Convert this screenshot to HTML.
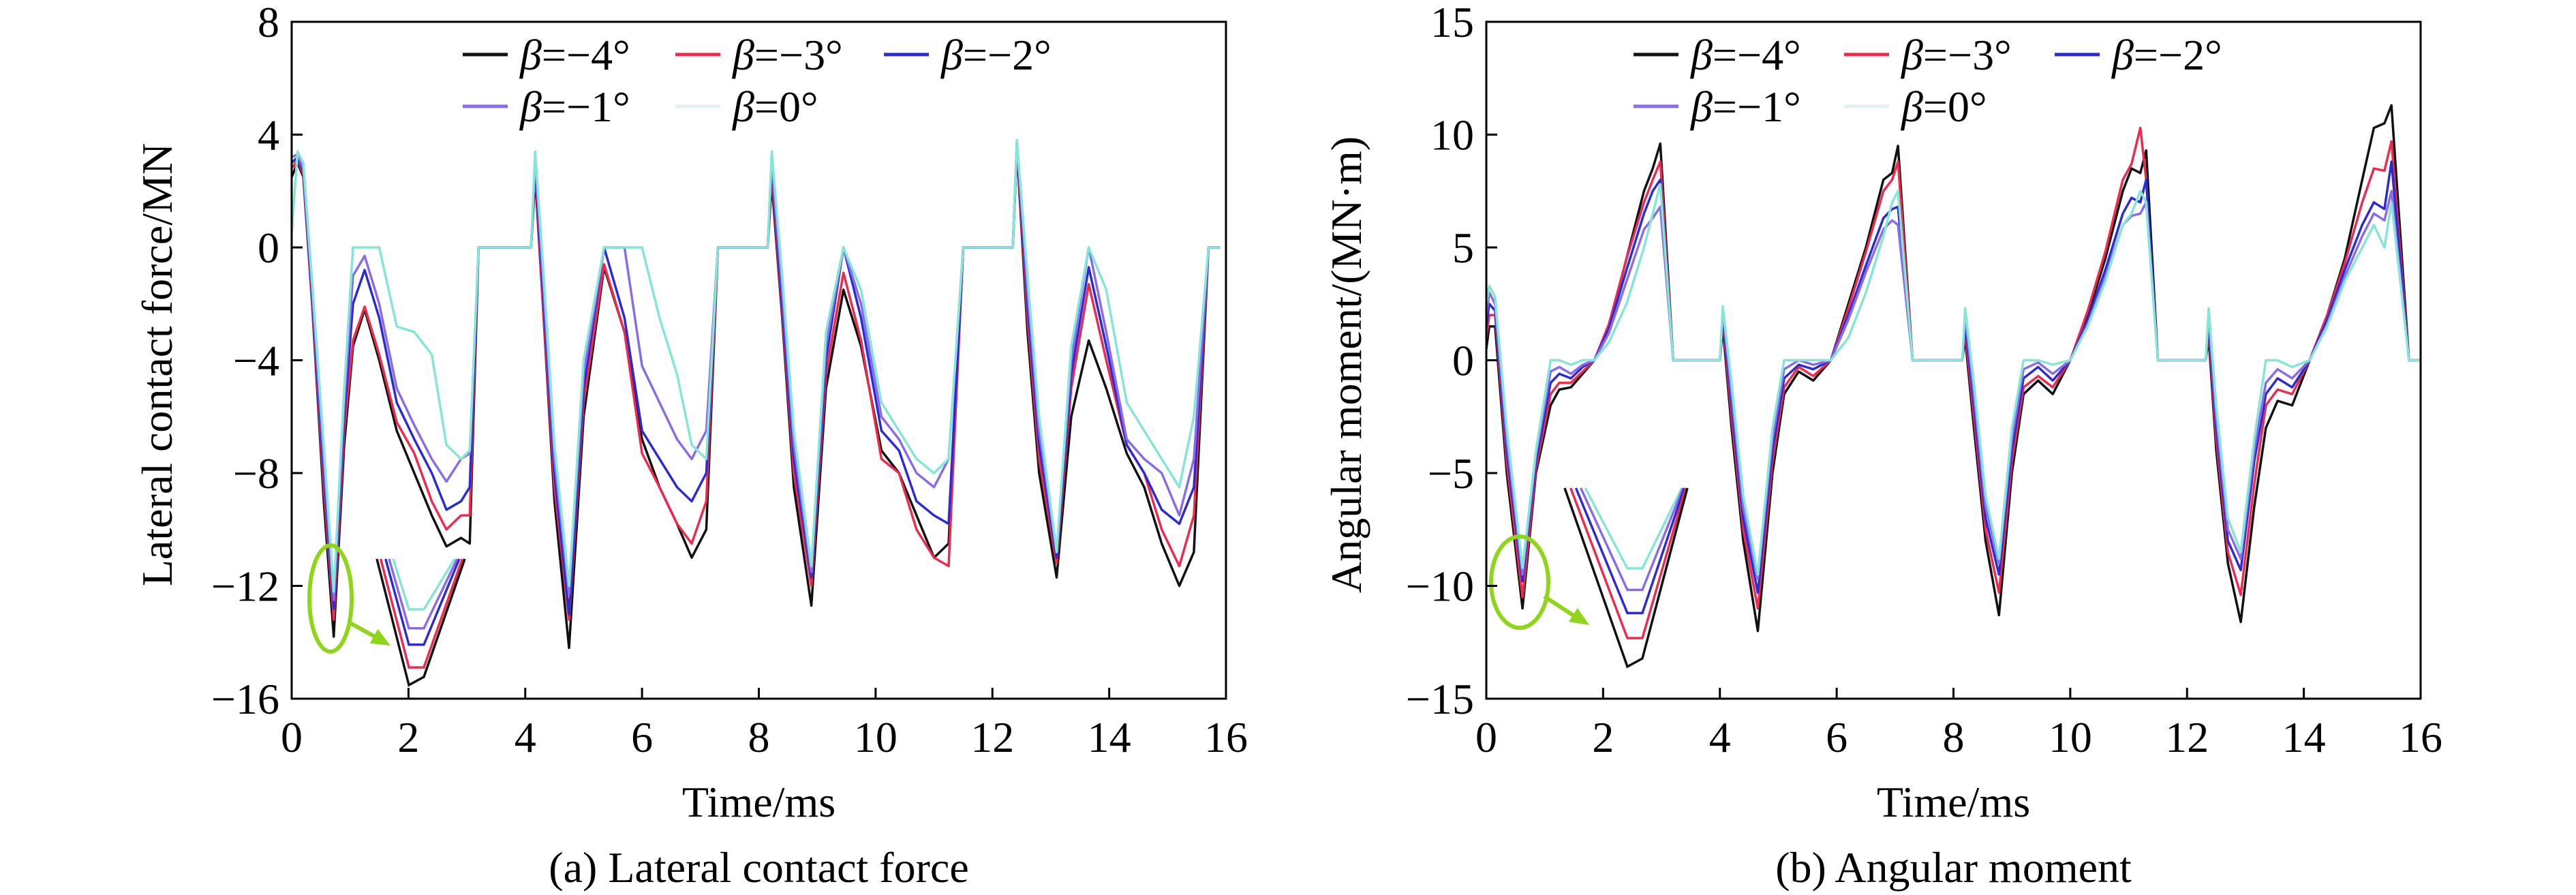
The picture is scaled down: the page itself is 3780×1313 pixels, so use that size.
<!DOCTYPE html>
<html><head><meta charset="utf-8">
<style>
html,body{margin:0;padding:0;background:#fff;}
svg{display:block;}
text{font-family:"Liberation Serif",serif;fill:#000;}
</style></head>
<body>
<svg id="fig" width="3780" height="1313" viewBox="0 0 3780 1313" xmlns="http://www.w3.org/2000/svg">
<g id="pa"></g>
<g id="pb"></g>
</svg>
<script>
// ---------- Panel (a): lateral contact force ----------
const forceTime = [0,0.1,0.2,0.35,0.55,0.72,0.9,1.05,1.25,1.5,1.8,2.1,2.4,2.65,2.9,3.05,3.2,4.1,
 4.17,4.3,4.5,4.75,5.0,5.35,5.7,6.0,6.3,6.6,6.85,7.1,7.3,8.15,
 8.22,8.4,8.6,8.9,9.15,9.45,9.75,10.1,10.4,10.7,11.0,11.25,11.5,12.35,
 12.42,12.6,12.8,13.1,13.35,13.65,13.95,14.3,14.6,14.9,15.2,15.45,15.7,15.9];
const forceB4 = [2.5,3,2.5,-2,-9,-13.8,-7,-3.5,-2.2,-4,-6.5,-8,-9.5,-10.6,-10.3,-10.5,0,0,
 2.5,-2,-9,-14.2,-6,-0.7,-3,-6.8,-8.5,-9.8,-11,-10,0,0,
 2.3,-2.5,-8.5,-12.7,-5,-1.5,-3.5,-7.2,-8,-9.5,-11,-10.5,0,0,
 3.5,-3,-8,-11.7,-6,-3.3,-5,-7.3,-8.5,-10.5,-12,-10.8,0,0];
const forceB3 = [2.8,3.1,2.6,-2,-8.5,-13.2,-6.5,-3.3,-2.1,-3.8,-6.2,-7.3,-9,-10,-9.5,-9.5,0,0,
 2.8,-2,-8.5,-13.2,-5.5,-0.6,-3,-7.3,-8.5,-9.8,-10.5,-9,0,0,
 2.6,-2.3,-8,-12,-4.5,-0.9,-3.3,-7.5,-8,-10,-11,-11.3,0,0,
 3.6,-2.5,-7.5,-11.2,-5,-1.3,-4,-7,-8,-10,-11.3,-9.5,0,0];
const forceB2 = [3,3.2,2.7,-1.8,-8,-12.8,-6,-2,-0.8,-2.5,-5.5,-6.8,-8,-9.3,-9,-8.5,0,0,
 3,-1.5,-8,-13,-5,0,-2.5,-6.5,-7.5,-8.5,-9,-8,0,0,
 2.9,-2,-7.5,-11.7,-4,0,-2.5,-6.5,-7.2,-9,-9.5,-9.8,0,0,
 3.7,-2,-7,-11,-4.5,-0.7,-3.5,-7,-8,-9.3,-9.8,-8.5,0,0];
const forceB1 = [3.2,3.3,2.8,-1.5,-7.5,-12.5,-5.5,-1,-0.3,-2,-5,-6.3,-7.5,-8.3,-7.5,-7.3,0,0,
 3.2,-1,-7.5,-12.3,-4.5,0,0,-4.2,-5.5,-6.8,-7.5,-6.5,0,0,
 3.1,-1.5,-7,-11.5,-3.5,0,-2,-6,-6.8,-8,-8.5,-7.5,0,0,
 3.8,-1.5,-6.5,-10.8,-4,0,-3,-6.8,-7.5,-8,-9.5,-7.5,0,0];
const forceB0 = [0.5,3.4,3,-1.2,-7,-12.2,-5,0,0,0,-2.8,-3,-3.8,-7,-7.5,-7.2,0,0,
 3.4,-0.5,-7,-12,-4,0,0,0,-2.5,-4.5,-7,-7.5,0,0,
 3.4,-1,-6.5,-11.3,-3,0,-1.5,-5.5,-6.5,-7.5,-8,-7.5,0,0,
 3.8,-1,-6,-10.8,-3.5,0,-1.5,-5.5,-6.5,-7.5,-8.5,-6,0,0];
const forceYTicks = [8,4,0,-4,-8,-12,-16];
const xTicks = [0,2,4,6,8,10,12,14,16];
const forceInsetDepth = [1.0, 0.86, 0.68, 0.55, 0.4];

// ---------- Panel (b): angular moment ----------
const momentTime = [0,0.05,0.15,0.35,0.62,0.85,1.1,1.25,1.45,1.65,1.85,2.1,2.4,2.7,2.85,2.98,3.2,4.0,
 4.05,4.2,4.4,4.65,4.9,5.1,5.35,5.6,5.9,6.2,6.5,6.8,6.95,7.05,7.3,8.15,
 8.2,8.35,8.55,8.78,9.0,9.2,9.45,9.7,10.0,10.3,10.6,10.9,11.05,11.2,11.3,11.5,12.32,
 12.37,12.5,12.7,12.92,13.15,13.35,13.55,13.8,14.1,14.4,14.7,15.0,15.2,15.38,15.5,15.8,16.0];
const momentB4 = [0.5,1.5,1.5,-5,-11,-5,-2,-1.3,-1.2,-0.6,0,1.5,4.5,7.5,8.5,9.6,0,0,
 1.5,-3,-8,-12,-5,-1.5,-0.5,-0.9,0,2.5,5,8,8.3,9.5,0,0,
 1,-3,-8,-11.3,-5,-1.5,-0.9,-1.5,0,2,4.5,7.5,8.5,8.3,9.3,0,0,
 1,-4,-9,-11.6,-6.5,-3,-1.8,-2,0,2,4.5,8,10.3,10.5,11.3,0,0];
const momentB3 = [1,2,2,-4.5,-10.5,-4.8,-1.5,-1,-1,-0.5,0,1.6,4.5,7,8,8.8,0,0,
 1.8,-2.5,-7.5,-11,-4.5,-1.2,-0.3,-0.7,0,2.3,4.8,7.5,8,8.8,0,0,
 1.3,-2.5,-7.5,-10.3,-4.5,-1.2,-0.7,-1.2,0,2.2,4.8,8,8.7,10.3,8,0,0,
 1.3,-3.5,-8.5,-10.4,-5.5,-2,-1.3,-1.5,0,2,4.3,7,8.5,8.4,9.7,0,0];
const momentB2 = [1.5,2.5,2.2,-4,-9.8,-4.5,-1,-0.6,-0.8,-0.3,0,1.4,4,6.5,7.5,8,0,0,
 2,-2,-7,-10.3,-4,-0.8,-0.2,-0.4,0,2,4.2,6.3,6.7,6.8,0,0,
 1.6,-2,-7,-9.5,-4,-0.8,-0.3,-0.9,0,1.8,4,6.5,7.2,7,8,0,0,
 1.6,-3,-8,-9.3,-4.5,-1.5,-0.8,-1.2,0,1.8,4,6,7,6.7,8.8,0,0];
const momentB1 = [2,3,2.5,-3.5,-9.5,-4.2,-0.5,-0.3,-0.6,-0.2,0,1.2,3.5,5.8,6.3,6.8,0,0,
 2.2,-1.5,-6.5,-9.7,-3.5,-0.4,0,-0.2,0,1.8,3.9,5.8,6.2,6,0,0,
 2,-1.5,-6.5,-9,-3.5,-0.4,-0.1,-0.6,0,1.6,3.7,6,6.4,6.5,7,0,0,
 2,-2.5,-7.5,-8.8,-4,-1,-0.4,-0.8,0,1.6,3.7,5.5,6.5,6.2,7.5,0,0];
const momentB0 = [2.5,3.3,2.8,-3,-9.2,-4,0,0,-0.2,0,0,0.8,2.5,5,6.5,7.8,0,0,
 2.4,-1,-6,-9.5,-3,0,0,0,0,1,3,5.5,7,7.5,0,0,
 2.3,-1,-6,-8.8,-3,0,0,-0.2,0,1.5,3.5,6,6.5,7.5,7,0,0,
 2.3,-2,-7,-8.5,-3.5,0,0,-0.3,0,1.5,3.5,5,6,5,7,0,0];
const momentYTicks = [15,10,5,0,-5,-10,-15];
const momentInsetDepth = [1.0, 0.84, 0.7, 0.57, 0.45];

const seriesLabels = ["β=−4°","β=−3°","β=−2°","β=−1°","β=0°"];
const seriesNames = ["beta-minus-4","beta-minus-3","beta-minus-2","beta-minus-1","beta-0"];
const colors = ["#111111","#ee2a4e","#2b2bd6","#8a6ce6","#84e6d6"];
const legendColors = ["#111111","#ee2a4e","#2b2bd6","#8a6ce6","#dff4f0"];

const NS = "http://www.w3.org/2000/svg";
function mk(tag, attrs, parent){
  const e = document.createElementNS(NS, tag);
  for (const k in attrs) e.setAttribute(k, attrs[k]);
  parent.appendChild(e);
  return e;
}

function drawPanel(g, cfg){
  const L=cfg.L, R=cfg.R, T=32, B=1025;
  const xs = t => L + (t-0)/(16-0)*(R-L);
  const ys = v => T + (cfg.ymax - v)/(cfg.ymax-cfg.ymin)*(B-T);
  for (let s=0; s<cfg.series.length; s++){
    const vals = cfg.series[s];
    let d = "";
    for (let i=0;i<cfg.time.length;i++){
      d += (i?"L":"M") + xs(cfg.time[i]).toFixed(1) + " " + ys(vals[i]).toFixed(1);
    }
    const p = mk("path",{d:d,fill:"none",stroke:colors[s],"stroke-width":3.5,"stroke-linejoin":"round"},g);
    
    
  }
  const ins = cfg.inset;
  for (let s=cfg.series.length-1; s>=0; s--){
    const dep = cfg.insetDepth[s];
    const x0 = ins.x0 + (1-dep)*ins.spreadL, x1 = ins.x1 - (1-dep)*ins.spreadR;
    const yb = ins.top + dep*(ins.bottom-ins.top);
    const d = "M"+x0+" "+ins.top+"L"+(ins.cx-12)+" "+yb+"L"+(ins.cx+10)+" "+(yb-(s===0?12:0))+"L"+x1+" "+ins.top;
    const p = mk("path",{d:d,fill:"none",stroke:colors[s],"stroke-width":3.5},g);
    
    
  }
  const el = mk("ellipse",{cx:cfg.ell[0],cy:cfg.ell[1],rx:cfg.ell[2],ry:cfg.ell[3],fill:"none",stroke:"#8fd61a","stroke-width":6},g);
  
  
  const a = cfg.arrow;
  const ar = mk("line",{x1:a[0],y1:a[1],x2:a[2]-12,y2:a[3]-7,stroke:"#8fd61a","stroke-width":6},g);
  
  
  const ang = Math.atan2(a[3]-a[1], a[2]-a[0]);
  const hx=a[2], hy=a[3];
  const pts = [[hx,hy],[hx-28*Math.cos(ang)+12*Math.sin(ang), hy-28*Math.sin(ang)-12*Math.cos(ang)],[hx-28*Math.cos(ang)-12*Math.sin(ang), hy-28*Math.sin(ang)+12*Math.cos(ang)]];
  const ah = mk("polygon",{points:pts.map(p=>p.join(",")).join(" "),fill:"#8fd61a"},g);
  
  
  const fr = mk("rect",{x:L,y:T,width:R-L,height:B-T,fill:"none",stroke:"#000","stroke-width":3},g);
  
  
  cfg.yticks.forEach(v=>{
    const y = ys(v);
    const tk = mk("line",{x1:L,x2:L+16,y1:y,y2:y,stroke:"#000","stroke-width":3},g);
    
    
    const t = mk("text",{x:L-18,y:y+22,"text-anchor":"end","font-size":64},g);
    t.textContent = v<0 ? "−"+(-v) : String(v);
    
    
  });
  xTicks.forEach(v=>{
    const x = xs(v);
    const tk = mk("line",{x1:x,x2:x,y1:B,y2:B-16,stroke:"#000","stroke-width":3},g);
    
    
    const t = mk("text",{x:x,y:1103,"text-anchor":"middle","font-size":64},g);
    t.textContent = String(v);
    
    
  });
  const xt = mk("text",{x:(L+R)/2,y:1198,"text-anchor":"middle","font-size":64},g);
  xt.textContent = "Time/ms";
  
  
  const yt = mk("text",{x:0,y:0,"text-anchor":"middle","font-size":64,transform:"translate("+cfg.ytx+",535) rotate(-90)"},g);
  yt.textContent = cfg.ytitle;
  
  
  const cap = mk("text",{x:(L+R)/2,y:1294,"text-anchor":"middle","font-size":64},g);
  cap.textContent = cfg.caption;
  
  
  const lg = cfg.legend;
  seriesLabels.forEach((lab,i)=>{
    const row = i<3?0:1, col = i<3?i:i-3;
    const x = lg.x[col], y = row===0?80:156;
    const ln = mk("line",{x1:x,x2:x+66,y1:y,y2:y,stroke:legendColors[i],"stroke-width":5},g);
    
    
    const t = mk("text",{x:x+84,y:y+22,"font-size":64},g);
    
    
    const b = mk("tspan",{"font-style":"italic"},t); b.textContent = "β";
    const r = mk("tspan",{},t); r.textContent = lab.slice(1);
  });
}

drawPanel(document.getElementById("pa"),{
  prefix:"force", L:428, R:1799, ymin:-16, ymax:8, time:forceTime,
  series:[forceB4,forceB3,forceB2,forceB1,forceB0], yticks:forceYTicks,
  ytitle:"Lateral contact force/MN", ytx:252, caption:"(a) Lateral contact force",
  legend:{x:[679,991,1297]},
  inset:{x0:553,x1:682,top:820,bottom:1005,cx:612,spreadL:40,spreadR:25},
  insetDepth:forceInsetDepth, ell:[485,878,31,78], arrow:[512,913,573,947]
});
drawPanel(document.getElementById("pb"),{
  prefix:"moment", L:2181, R:3552, ymin:-15, ymax:15, time:momentTime,
  series:[momentB4,momentB3,momentB2,momentB1,momentB0], yticks:momentYTicks,
  ytitle:"Angular moment/(MN·m)", ytx:1997, caption:"(b) Angular moment",
  legend:{x:[2397,2706,3015]},
  inset:{x0:2296,x1:2476,top:716,bottom:978,cx:2400,spreadL:55,spreadR:15},
  insetDepth:momentInsetDepth, ell:[2230,854,42,67], arrow:[2266,875,2332,917]
});
</script>
</body></html>
